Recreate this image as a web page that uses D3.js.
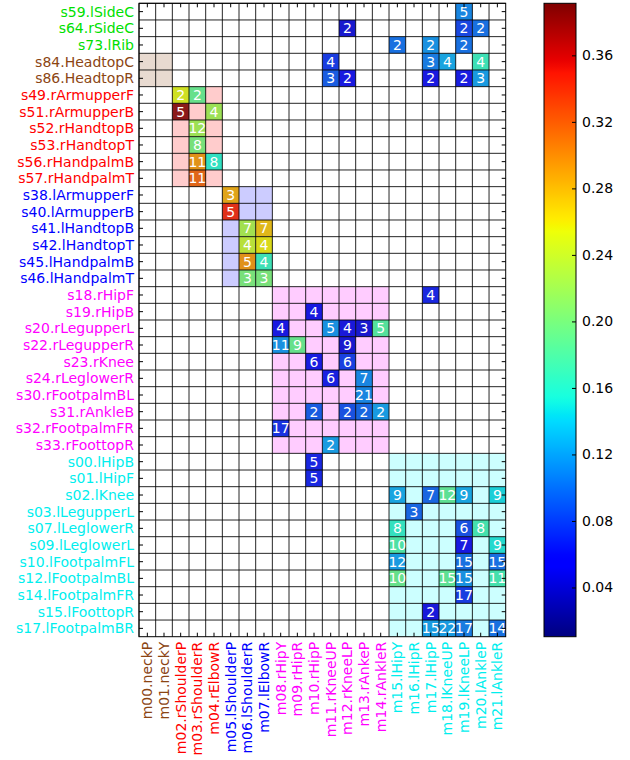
<!DOCTYPE html>
<html><head><meta charset="utf-8">
<script src="https://cdn.jsdelivr.net/npm/d3@7"></script>
<style>body{margin:0;background:#fff}svg{display:block}text{font-family:"DejaVu Sans",sans-serif}</style>
</head><body>
<svg id="chart" width="630" height="760"></svg>
<script>
// ---------- data ----------
const rowLabels = ["s59.lSideC","s64.rSideC","s73.lRib","s84.HeadtopC","s86.HeadtopR",
 "s49.rArmupperF","s51.rArmupperB","s52.rHandtopB","s53.rHandtopT","s56.rHandpalmB","s57.rHandpalmT",
 "s38.lArmupperF","s40.lArmupperB","s41.lHandtopB","s42.lHandtopT","s45.lHandpalmB","s46.lHandpalmT",
 "s18.rHipF","s19.rHipB","s20.rLegupperL","s22.rLegupperR","s23.rKnee","s24.rLeglowerR","s30.rFootpalmBL",
 "s31.rAnkleB","s32.rFootpalmFR","s33.rFoottopR",
 "s00.lHipB","s01.lHipF","s02.lKnee","s03.lLegupperL","s07.lLeglowerR","s09.lLeglowerL","s10.lFootpalmFL",
 "s12.lFootpalmBL","s14.lFootpalmFR","s15.lFoottopR","s17.lFootpalmBR"];
const rowGroups = ["torso","torso","torso","head","head",
 "rArm","rArm","rArm","rArm","rArm","rArm",
 "lArm","lArm","lArm","lArm","lArm","lArm",
 "rLeg","rLeg","rLeg","rLeg","rLeg","rLeg","rLeg","rLeg","rLeg","rLeg",
 "lLeg","lLeg","lLeg","lLeg","lLeg","lLeg","lLeg","lLeg","lLeg","lLeg","lLeg"];
const colLabels = ["m00.neckP","m01.neckY","m02.rShoulderP","m03.rShoulderR","m04.rElbowR",
 "m05.lShoulderP","m06.lShoulderR","m07.lElbowR","m08.rHipY","m09.rHipR","m10.rHipP",
 "m11.rKneeUP","m12.rKneeLP","m13.rAnkeP","m14.rAnkleR","m15.lHipY","m16.lHipR","m17.lHipP",
 "m18.lKneeUP","m19.lKneeLP","m20.lAnkleP","m21.lAnkleR"];
const colGroups = ["head","head","rArm","rArm","rArm","lArm","lArm","lArm",
 "rLeg","rLeg","rLeg","rLeg","rLeg","rLeg","rLeg","lLeg","lLeg","lLeg","lLeg","lLeg","lLeg","lLeg"];
// [sensor, motor, count, value]
const cells = [
 ["s59.lSideC","m19.lKneeLP",5,0.110],
 ["s64.rSideC","m12.rKneeLP",2,0.045],["s64.rSideC","m19.lKneeLP",2,0.080],["s64.rSideC","m20.lAnkleP",2,0.100],
 ["s73.lRib","m15.lHipY",2,0.100],["s73.lRib","m17.lHipP",2,0.115],["s73.lRib","m19.lKneeLP",2,0.100],
 ["s84.HeadtopC","m11.rKneeUP",4,0.075],["s84.HeadtopC","m17.lHipP",3,0.105],["s84.HeadtopC","m18.lKneeUP",4,0.125],["s84.HeadtopC","m20.lAnkleP",4,0.165],
 ["s86.HeadtopR","m11.rKneeUP",3,0.090],["s86.HeadtopR","m12.rKneeLP",2,0.055],["s86.HeadtopR","m17.lHipP",2,0.055],["s86.HeadtopR","m19.lKneeLP",2,0.060],["s86.HeadtopR","m20.lAnkleP",3,0.120],
 ["s49.rArmupperF","m02.rShoulderP",2,0.252],["s49.rArmupperF","m03.rShoulderR",2,0.190],
 ["s51.rArmupperB","m02.rShoulderP",5,0.385],["s51.rArmupperB","m04.rElbowR",4,0.222],
 ["s52.rHandtopB","m03.rShoulderR",12,0.222],
 ["s53.rHandtopT","m03.rShoulderR",8,0.200],
 ["s56.rHandpalmB","m03.rShoulderR",11,0.294],["s56.rHandpalmB","m04.rElbowR",8,0.158],
 ["s57.rHandpalmT","m03.rShoulderR",11,0.317],
 ["s38.lArmupperF","m05.lShoulderP",3,0.285],
 ["s40.lArmupperB","m05.lShoulderP",5,0.345],
 ["s41.lHandtopB","m06.lShoulderR",7,0.225],["s41.lHandtopB","m07.lElbowR",7,0.275],
 ["s42.lHandtopT","m06.lShoulderR",4,0.238],["s42.lHandtopT","m07.lElbowR",4,0.258],
 ["s45.lHandpalmB","m06.lShoulderR",5,0.295],["s45.lHandpalmB","m07.lElbowR",4,0.166],
 ["s46.lHandpalmT","m06.lShoulderR",3,0.200],["s46.lHandpalmT","m07.lElbowR",3,0.200],
 ["s18.rHipF","m17.lHipP",4,0.065],
 ["s19.rHipB","m10.rHipP",4,0.052],
 ["s20.rLegupperL","m08.rHipY",4,0.055],["s20.rLegupperL","m11.rKneeUP",5,0.115],["s20.rLegupperL","m12.rKneeLP",4,0.050],["s20.rLegupperL","m13.rAnkeP",3,0.045],["s20.rLegupperL","m14.rAnkleR",5,0.180],
 ["s22.rLegupperR","m08.rHipY",11,0.115],["s22.rLegupperR","m09.rHipR",9,0.190],["s22.rLegupperR","m12.rKneeLP",9,0.045],
 ["s23.rKnee","m10.rHipP",6,0.060],["s23.rKnee","m12.rKneeLP",6,0.077],
 ["s24.rLeglowerR","m11.rKneeUP",6,0.062],["s24.rLeglowerR","m13.rAnkeP",7,0.110],
 ["s30.rFootpalmBL","m13.rAnkeP",21,0.110],
 ["s31.rAnkleB","m10.rHipP",2,0.090],["s31.rAnkleB","m12.rKneeLP",2,0.085],["s31.rAnkleB","m13.rAnkeP",2,0.095],["s31.rAnkleB","m14.rAnkleR",2,0.120],
 ["s32.rFootpalmFR","m08.rHipY",17,0.070],
 ["s33.rFoottopR","m11.rKneeUP",2,0.120],
 ["s00.lHipB","m10.rHipP",5,0.065],
 ["s01.lHipF","m10.rHipP",5,0.065],
 ["s02.lKnee","m15.lHipY",9,0.125],["s02.lKnee","m17.lHipP",7,0.095],["s02.lKnee","m18.lKneeUP",12,0.185],["s02.lKnee","m19.lKneeLP",9,0.125],["s02.lKnee","m21.lAnkleR",9,0.145],
 ["s03.lLegupperL","m16.lHipR",3,0.095],
 ["s07.lLeglowerR","m15.lHipY",8,0.160],["s07.lLeglowerR","m19.lKneeLP",6,0.085],["s07.lLeglowerR","m20.lAnkleP",8,0.170],
 ["s09.lLeglowerL","m15.lHipY",10,0.175],["s09.lLeglowerL","m19.lKneeLP",7,0.055],["s09.lLeglowerL","m21.lAnkleR",9,0.150],
 ["s10.lFootpalmFL","m15.lHipY",12,0.120],["s10.lFootpalmFL","m19.lKneeLP",15,0.100],["s10.lFootpalmFL","m21.lAnkleR",15,0.100],
 ["s12.lFootpalmBL","m15.lHipY",10,0.190],["s12.lFootpalmBL","m18.lKneeUP",15,0.185],["s12.lFootpalmBL","m19.lKneeLP",15,0.115],["s12.lFootpalmBL","m21.lAnkleR",11,0.170],
 ["s14.lFootpalmFR","m19.lKneeLP",17,0.075],
 ["s15.lFoottopR","m17.lHipP",2,0.050],
 ["s17.lFootpalmBR","m17.lHipP",15,0.120],["s17.lFootpalmBR","m18.lKneeUP",22,0.120],["s17.lFootpalmBR","m19.lKneeLP",17,0.105],["s17.lFootpalmBR","m21.lAnkleR",14,0.100]
];
const colorDomain = [0.0104, 0.3913];
const colorbarTicks = [0.04, 0.08, 0.12, 0.16, 0.20, 0.24, 0.28, 0.32, 0.36];

// ---------- styles ----------
const groupColor = {torso:"#00e000", head:"#8b4513", rArm:"#ff0000", lArm:"#0000ff", rLeg:"#ff00ff", lLeg:"#00eeee"};
const tintColor = {head:"#8b4513", rArm:"#ff0000", lArm:"#0000ff", rLeg:"#ff00ff", lLeg:"#00ffff"};

// jet colormap (matplotlib segment data)
function seg(pts, t){
  for(let i=1;i<pts.length;i++){ if(t<=pts[i][0]){const a=pts[i-1],b=pts[i];return a[1]+(b[1]-a[1])*(t-a[0])/(b[0]-a[0]);} }
  return pts[pts.length-1][1];
}
const jR=[[0,0],[0.35,0],[0.66,1],[0.89,1],[1,0.5]];
const jG=[[0,0],[0.125,0],[0.375,1],[0.64,1],[0.91,0],[1,0]];
const jB=[[0,0.5],[0.11,1],[0.34,1],[0.65,0],[1,0]];
function jet(t){t=Math.max(0,Math.min(1,t));return d3.rgb(255*seg(jR,t),255*seg(jG,t),255*seg(jB,t)).formatHex();}

const L=139, R=505.7, T=3.3, B=636.7;
const svg = d3.select("#chart");
const x = d3.scaleBand().domain(colLabels).range([L,R]);
const y = d3.scaleBand().domain(rowLabels).range([T,B]);
const cnorm = d3.scaleLinear().domain(colorDomain).range([0,1]);
const cellColor = v => d3.interpolateRgb(jet(cnorm(v)), "#707070")(0.22);

// tinted group regions
const groups = Object.keys(tintColor);
groups.forEach(g=>{
  const rs = rowLabels.filter((r,i)=>rowGroups[i]===g), cs = colLabels.filter((c,i)=>colGroups[i]===g);
  if(!rs.length||!cs.length) return;
  svg.append("rect").attr("x",x(cs[0])).attr("y",y(rs[0]))
    .attr("width",x(cs[cs.length-1])+x.bandwidth()-x(cs[0]))
    .attr("height",y(rs[rs.length-1])+y.bandwidth()-y(rs[0]))
    .attr("fill",tintColor[g]).attr("fill-opacity",0.2);
});

// cells
svg.append("g").selectAll("rect").data(cells).join("rect")
  .attr("x",d=>x(d[1])).attr("y",d=>y(d[0])).attr("width",x.bandwidth()).attr("height",y.bandwidth())
  .attr("fill",d=>cellColor(d[3]));

// grid lines
const grid = svg.append("g").attr("stroke","#000").attr("stroke-opacity",0.85).attr("stroke-width",1);
colLabels.forEach(c=>grid.append("line").attr("x1",x(c)).attr("x2",x(c)).attr("y1",T).attr("y2",B));
rowLabels.forEach(r=>grid.append("line").attr("x1",L).attr("x2",R).attr("y1",y(r)).attr("y2",y(r)));

// cell numbers
svg.append("g").selectAll("text").data(cells).join("text")
  .attr("x",d=>x(d[1])+x.bandwidth()/2).attr("y",d=>y(d[0])+y.bandwidth()/2)
  .attr("text-anchor","middle").attr("dominant-baseline","central")
  .attr("fill","#fff").attr("font-size",14).text(d=>d[2]);

// axes
const ax = svg.append("g").attr("transform",`translate(${L},0)`)
  .call(d3.axisLeft(y).tickSize(-4).tickSizeOuter(0).tickPadding(5));
ax.select(".domain").remove();
ax.selectAll("text").attr("font-size",14).attr("font-family","DejaVu Sans").attr("dy",null)
  .attr("dominant-baseline","central").attr("fill",d=>groupColor[rowGroups[rowLabels.indexOf(d)]]);
const axB = svg.append("g").attr("transform",`translate(0,${B})`)
  .call(d3.axisBottom(x).tickSize(-4).tickSizeOuter(0).tickPadding(0));
axB.select(".domain").remove();
axB.selectAll("text").attr("font-size",14).attr("font-family","DejaVu Sans")
  .attr("y",null).attr("dy",null).attr("text-anchor","end").attr("dominant-baseline","central")
  .attr("transform","translate(0,5) rotate(-90)")
  .attr("fill",d=>groupColor[colGroups[colLabels.indexOf(d)]]);
const axT = svg.append("g").attr("transform",`translate(0,${T})`)
  .call(d3.axisTop(x).tickSize(-4).tickSizeOuter(0).tickFormat(""));
axT.select(".domain").remove();
const axR = svg.append("g").attr("transform",`translate(${R},0)`)
  .call(d3.axisRight(y).tickSize(-4).tickSizeOuter(0).tickFormat(""));
axR.select(".domain").remove();
svg.append("rect").attr("x",L).attr("y",T).attr("width",R-L).attr("height",B-T)
  .attr("fill","none").attr("stroke","#000").attr("stroke-width",1);

// colorbar
const cbL=544, cbW=32;
const defs = svg.append("defs");
const grad = defs.append("linearGradient").attr("id","jetgrad").attr("x1",0).attr("y1",1).attr("x2",0).attr("y2",0);
d3.range(0,1.0001,0.01).forEach(t=>grad.append("stop").attr("offset",t).attr("stop-color",jet(t)));
svg.append("rect").attr("x",cbL).attr("y",T).attr("width",cbW).attr("height",B-T).attr("fill","url(#jetgrad)");
const cy = d3.scaleLinear().domain(colorDomain).range([B,T]);
const cax = svg.append("g").attr("transform",`translate(${cbL+cbW},0)`)
  .call(d3.axisRight(cy).tickValues(colorbarTicks).tickFormat(d3.format(".2f")).tickSize(-4).tickSizeOuter(0).tickPadding(6));
cax.select(".domain").remove();
cax.selectAll("text").attr("font-size",14).attr("font-family","DejaVu Sans").attr("fill","#000");
svg.append("rect").attr("x",cbL).attr("y",T).attr("width",cbW).attr("height",B-T)
  .attr("fill","none").attr("stroke","#000").attr("stroke-width",1);
</script>
</body></html>
